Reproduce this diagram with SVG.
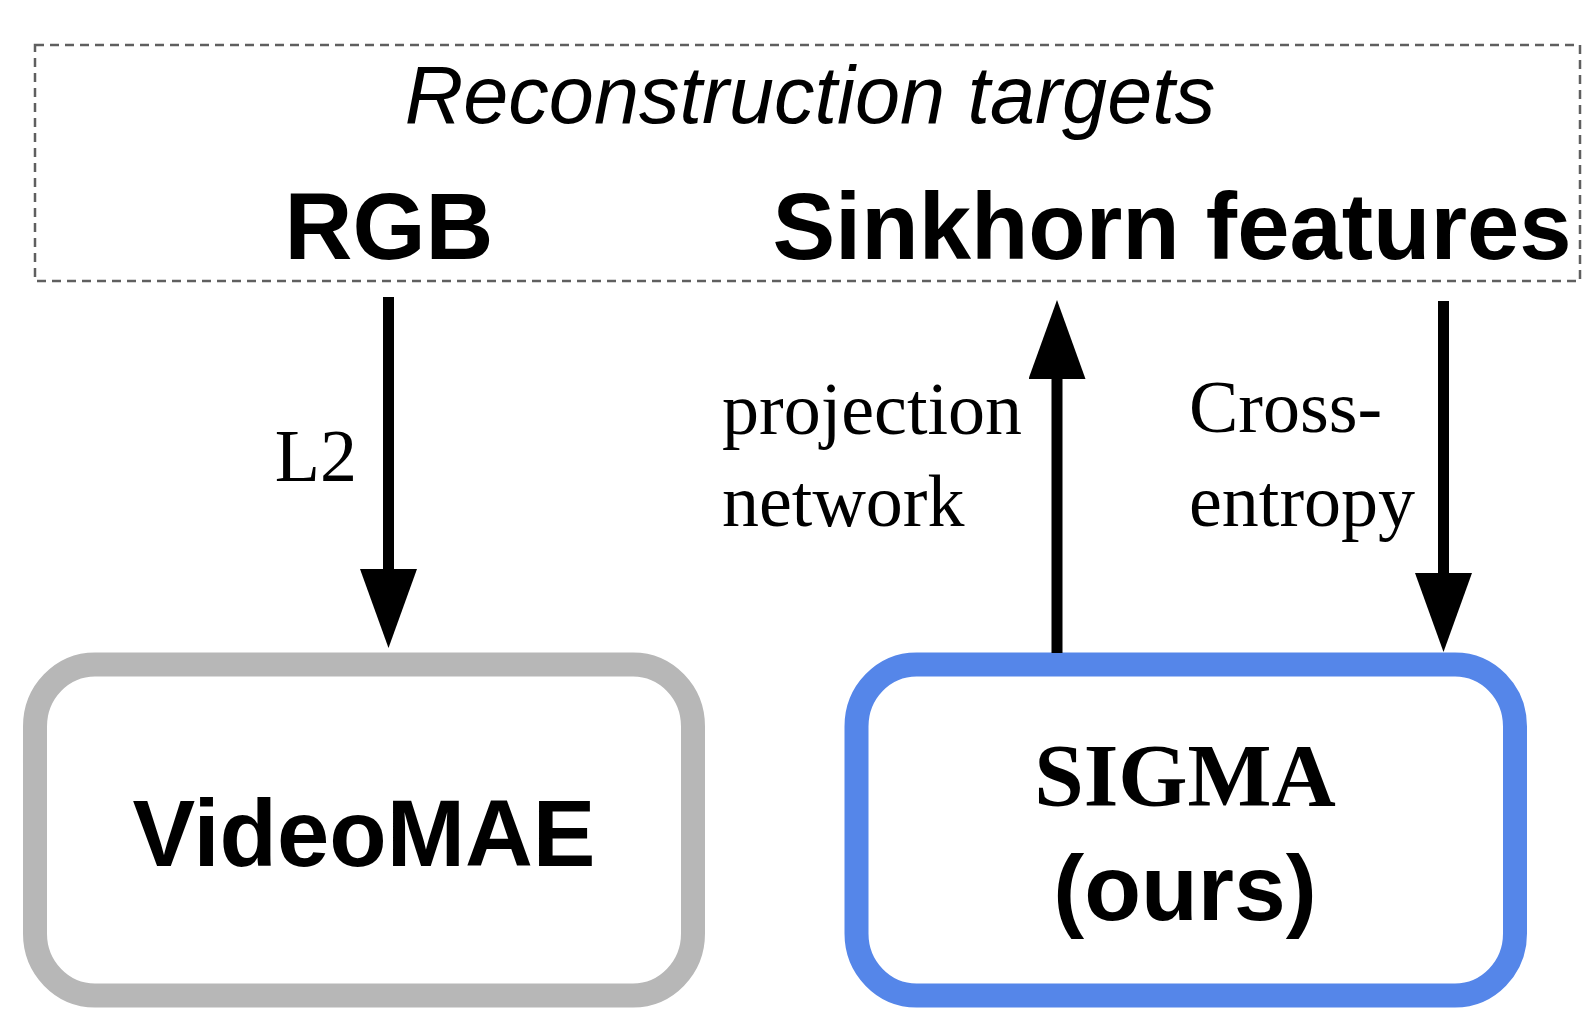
<svg xmlns="http://www.w3.org/2000/svg" width="1594" height="1030" viewBox="0 0 1594 1030">
<style>
.sansB{font-family:"Liberation Sans",Arial,sans-serif;font-weight:bold;fill:#000}
.serif{font-family:"Liberation Serif","Times New Roman",serif;fill:#000;font-size:74px}
.conn{stroke:#000;stroke-width:11;fill:none}
</style>
<defs>
<marker id="ah" markerUnits="userSpaceOnUse" markerWidth="80" markerHeight="58" refX="0" refY="28.5" orient="auto" viewBox="0 0 80 58">
<path d="M0,0 L79,28.5 L0,57 z" fill="#000"/>
</marker>
</defs>
<rect width="1594" height="1030" fill="#fff"/>
<g id="targets">
<rect x="35" y="45" width="1545" height="236" fill="none" stroke="#5f5f5f" stroke-width="2.5" stroke-dasharray="9 6"/>
<text x="810" y="123" text-anchor="middle" font-family="Liberation Sans, Arial, sans-serif" font-style="italic" font-size="81">Reconstruction targets</text>
</g>
<g id="rgb">
<text class="sansB" x="389" y="259" text-anchor="middle" font-size="94">RGB</text>
</g>
<g id="sinkhorn">
<text class="sansB" x="1172" y="259" text-anchor="middle" font-size="94">Sinkhorn features</text>
</g>
<g id="videomae">
<rect x="35" y="664.5" width="658" height="331" rx="60" ry="62" fill="#fff" stroke="#b7b7b7" stroke-width="24"/>
<text class="sansB" x="364" y="866" text-anchor="middle" font-size="94">VideoMAE</text>
</g>
<g id="sigma">
<rect x="856.5" y="664.5" width="658.5" height="331" rx="60" ry="62" fill="#fff" stroke="#5586e9" stroke-width="24"/>
<text x="1185" y="805" text-anchor="middle" font-family="Liberation Serif, Times New Roman, serif" font-weight="bold" font-size="89">SIGMA</text>
<text class="sansB" x="1185" y="920" text-anchor="middle" font-size="93">(ours)</text>
</g>
<g id="connectors">
<line class="conn" x1="388.5" y1="297" x2="388.5" y2="569" marker-end="url(#ah)"/>
<line class="conn" x1="1057" y1="653" x2="1057" y2="379" marker-end="url(#ah)"/>
<line class="conn" x1="1443.5" y1="301" x2="1443.5" y2="573" marker-end="url(#ah)"/>
<text class="serif" x="357" y="481" text-anchor="end">L2</text>
<text class="serif" x="722" y="434">projection</text>
<text class="serif" x="722" y="526">network</text>
<text class="serif" x="1189" y="432">Cross-</text>
<text class="serif" x="1189" y="526">entropy</text>
</g>
</svg>
